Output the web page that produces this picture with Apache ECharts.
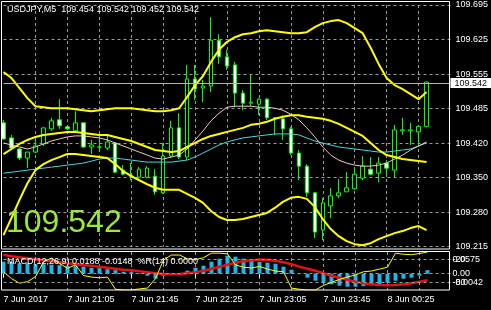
<!DOCTYPE html>
<html><head><meta charset="utf-8">
<script src="https://cdn.jsdelivr.net/npm/echarts@6/dist/echarts.min.js"></script>
<style>html,body{margin:0;padding:0;background:#000;}#c{width:491px;height:310px;}</style>
</head><body><div id="c"></div>
<script>
const times = ['20:25','20:30','20:35','20:40','20:45','20:50','20:55',
 '21:00','21:05','21:10','21:15','21:20','21:25','21:30','21:35','21:40','21:45','21:50','21:55',
 '22:00','22:05','22:10','22:15','22:20','22:25','22:30','22:35','22:40','22:45','22:50','22:55',
 '23:00','23:05','23:10','23:15','23:20','23:25','23:30','23:35','23:40','23:45','23:50','23:55',
 '00:00','00:05','00:10','00:15','00:20','00:25','00:30','00:35','00:40','00:45','00:50',
 '00:55','01:00','01:05'];
const opens = [109.461,109.431,109.409,109.391,109.403,109.419,109.449,109.467,109.453,109.445,
 109.461,109.413,109.413,109.411,109.421,109.367,109.357,109.353,109.353,109.355,
 109.322,109.395,109.451,109.393,109.548,109.530,109.534,109.625,109.592,109.576,
 109.520,109.500,109.498,109.508,109.471,109.469,109.449,109.401,109.375,109.322,
 109.248,109.296,109.316,109.324,109.330,109.351,109.369,109.361,109.381,109.367,
 109.445,109.445,109.443,109.454];
const closes = [109.429,109.411,109.391,109.403,109.415,109.451,109.465,109.455,109.449,109.461,
 109.413,109.417,109.413,109.423,109.363,109.359,109.355,109.369,109.371,109.324,
 109.395,109.451,109.393,109.548,109.528,109.534,109.625,109.592,109.574,109.520,
 109.500,109.502,109.508,109.471,109.469,109.449,109.401,109.375,109.322,109.244,
 109.302,109.316,109.322,109.332,109.359,109.375,109.359,109.381,109.371,109.447,
 109.447,109.447,109.454,109.542];
const lows = [109.427,109.407,109.387,109.371,109.401,109.415,109.445,109.449,109.447,109.443,
 109.411,109.399,109.403,109.407,109.361,109.357,109.347,109.347,109.351,109.318,
 109.320,109.391,109.389,109.387,109.506,109.502,109.522,109.578,109.566,109.492,
 109.486,109.494,109.476,109.467,109.437,109.427,109.397,109.347,109.314,109.232,
 109.228,109.272,109.312,109.324,109.328,109.347,109.357,109.343,109.353,109.353,
 109.437,109.417,109.413,109.452];
const highs = [109.467,109.437,109.411,109.403,109.433,109.451,109.471,109.508,109.453,109.484,
 109.461,109.427,109.435,109.437,109.423,109.377,109.381,109.373,109.375,109.369,
 109.421,109.465,109.480,109.576,109.576,109.546,109.671,109.637,109.606,109.582,
 109.526,109.556,109.510,109.510,109.471,109.476,109.453,109.407,109.379,109.324,
 109.312,109.332,109.349,109.363,109.371,109.395,109.393,109.393,109.387,109.457,
 109.471,109.461,109.457,109.542];
const bbUpper = [109.562,109.550,109.530,109.510,109.494,109.492,109.490,109.490,109.490,109.488,
 109.486,109.484,109.486,109.488,109.490,109.490,109.490,109.488,109.486,109.484,
 109.484,109.486,109.490,109.512,109.536,109.554,109.582,109.606,109.622,109.631,
 109.637,109.639,109.643,109.645,109.643,109.641,109.639,109.639,109.641,109.651,
 109.659,109.663,109.665,109.659,109.649,109.639,109.610,109.578,109.550,109.536,
 109.528,109.518,109.508,109.522];
const bbMiddle = [109.399,109.409,109.419,109.427,109.433,109.437,109.439,109.441,109.443,109.443,
 109.441,109.439,109.437,109.437,109.433,109.429,109.425,109.419,109.413,109.407,
 109.405,109.403,109.405,109.413,109.421,109.429,109.435,109.439,109.443,109.447,
 109.451,109.457,109.459,109.463,109.469,109.473,109.476,109.476,109.473,109.471,
 109.469,109.465,109.459,109.451,109.443,109.435,109.421,109.407,109.397,109.393,
 109.389,109.387,109.385,109.383];
const bbLower = [109.238,109.272,109.308,109.341,109.367,109.379,109.387,109.393,109.399,109.399,
 109.397,109.395,109.393,109.391,109.379,109.365,109.355,109.347,109.339,109.332,
 109.328,109.328,109.328,109.320,109.312,109.302,109.286,109.274,109.268,109.268,
 109.270,109.274,109.278,109.282,109.292,109.304,109.312,109.314,109.310,109.294,
 109.270,109.250,109.236,109.226,109.220,109.218,109.222,109.230,109.236,109.242,
 109.246,109.252,109.256,109.248];
const maPink = [109.421,109.417,109.413,109.409,109.413,109.419,109.425,109.429,109.433,109.435,
 109.435,109.433,109.431,109.427,109.421,109.415,109.409,109.403,109.397,109.391,
 109.389,109.393,109.397,109.409,109.427,109.445,109.465,109.480,109.492,109.494,
 109.494,109.494,109.492,109.492,109.490,109.486,109.478,109.467,109.451,109.433,
 109.413,109.397,109.387,109.381,109.377,109.375,109.375,109.377,109.381,109.389,
 109.397,109.407,109.415,109.423];
const maCyan = [109.361,109.363,109.365,109.367,109.369,109.371,109.373,109.375,109.377,109.379,
 109.381,109.385,109.389,109.391,109.391,109.389,109.387,109.385,109.383,109.383,
 109.383,109.383,109.385,109.387,109.393,109.401,109.409,109.417,109.423,109.427,
 109.431,109.433,109.435,109.437,109.439,109.439,109.439,109.437,109.431,109.425,
 109.421,109.417,109.413,109.411,109.409,109.407,109.405,109.403,109.403,109.405,
 109.407,109.409,109.415,109.421];
const macdMain = [0.0318,0.0318,0.0278,0.0278,0.0252,0.0252,0.0239,0.0225,0.0212,0.0199,
 0.0186,0.0159,0.0146,0.0119,0.0093,0.0053,0.0040,0.0013,-0.0053,-0.0133,
 -0.0053,-0.0013,0.0008,0.0080,0.0159,0.0212,0.0318,0.0398,0.0477,0.0451,
 0.0398,0.0345,0.0318,0.0292,0.0265,0.0186,0.0106,0.0013,-0.0106,-0.0186,
 -0.0252,-0.0278,-0.0318,-0.0345,-0.0345,-0.0331,-0.0305,-0.0278,-0.0239,-0.0186,
 -0.0133,-0.0106,-0.0053,0.0093];
const macdSignal = [0.0504,0.0464,0.0437,0.0411,0.0384,0.0358,0.0331,0.0305,0.0278,0.0252,
 0.0225,0.0212,0.0186,0.0159,0.0133,0.0106,0.0093,0.0066,0.0040,0.0013,
 -0.0008,-0.0013,-0.0008,0.0013,0.0040,0.0080,0.0133,0.0186,0.0239,0.0292,
 0.0331,0.0358,0.0371,0.0371,0.0345,0.0305,0.0252,0.0186,0.0133,0.0080,
 0.0013,-0.0053,-0.0106,-0.0159,-0.0212,-0.0252,-0.0278,-0.0297,-0.0305,-0.0297,
 -0.0278,-0.0252,-0.0212,-0.0172];
const wpr = [-52,-70,-82,-78,-65,-26,-16,-30,-43,-34,
 -62,-66,-68,-66,-98,-100,-100,-97,-95,-70,
 -21,-8,-8,-18,-20,-15,-3,-3,-5,-34,
 -40,-42,-38,-45,-50,-52,-95,-98,-100,-100,
 -88,-80,-72,-66,-60,-52,-50,-45,-40,-3,
 -6,-7,-4,0];
const priceTickLabels = ['109.215','109.280','109.350','109.420','109.485','109.555','109.625','109.695'];
const timeTickLabels = ['7 Jun 2017','7 Jun 21:05','7 Jun 21:45','7 Jun 22:25','7 Jun 23:05','7 Jun 23:45','8 Jun 00:25'];
const macdRange = [-0.0432, 0.0575];
const wprLevels = [-20, -80];
const windowRangeLabels = {'-20':'0.0575','-80':'-0.0042'};
const subHeader = 'MACD(12,26,9) 0.0188 -0.0148  %R(14) 0.0000';

const last = closes.length - 1;
const mainHeader = 'USDJPY,M5  ' + [opens[last], highs[last], lows[last], closes[last]].map(v => v.toFixed(3)).join(' ');
const candles = opens.map((o, i) => [o, closes[i], lows[i], highs[i]]);
const pMin = parseFloat(priceTickLabels[0]), pMax = parseFloat(priceTickLabels[priceTickLabels.length - 1]);

const FONT = 'Liberation Sans, Arial, sans-serif';
const dash = { color: '#9a9a9a', type: [3, 3], width: 1 };
const vSplit = { show: true, interval: (i) => i % 4 === 0 && i > 0 && i < 56, lineStyle: dash };

const chart = echarts.init(document.getElementById('c'), null, { renderer: 'canvas' });
chart.setOption({
  backgroundColor: '#000',
  animation: false,
  title: [
    { text: mainHeader, left: 7, top: 5, padding: 0, textStyle: { color: '#fff', fontSize: 9, fontWeight: 'normal', fontFamily: FONT } },
    { text: subHeader, left: 7, top: 257, padding: 0, textStyle: { color: '#fff', fontSize: 9, fontWeight: 'normal', fontFamily: FONT } }
  ],
  grid: [
    { left: 3.5, top: 5, width: 448, height: 241.7 },
    { left: 3.5, top: 252, width: 448, height: 38 }
  ],
  xAxis: [
    { type: 'category', gridIndex: 0, data: times, boundaryGap: false,
      axisLine: { show: false }, axisTick: { show: false }, axisLabel: { show: false }, splitLine: vSplit },
    { type: 'category', gridIndex: 1, data: times, boundaryGap: false,
      axisLine: { show: false },
      axisTick: { show: true, interval: (i) => i % 8 === 0 && i <= 48, length: 4, lineStyle: { color: '#fff' } },
      axisLabel: { interval: (i) => i % 8 === 0 && i <= 48, formatter: (v, i) => timeTickLabels[i / 8] || '',
        align: 'left', color: '#fff', fontSize: 9, fontFamily: FONT, margin: 5 },
      splitLine: vSplit }
  ],
  yAxis: [
    { type: 'value', gridIndex: 0, min: pMin, max: pMax, show: false, position: 'right' },
    { type: 'value', gridIndex: 0, min: 0, max: priceTickLabels.length - 1, interval: 1, position: 'right',
      axisLine: { show: false }, axisTick: { show: false },
      axisLabel: { formatter: (v) => priceTickLabels[v] || '', color: '#fff', fontSize: 9, fontFamily: FONT, margin: 5 },
      splitLine: { show: true, lineStyle: dash } },
    { type: 'value', gridIndex: 1, min: macdRange[0], max: macdRange[1], interval: -macdRange[0], position: 'right',
      axisLine: { show: false }, axisTick: { show: false }, splitLine: { show: false },
      axisLabel: { formatter: (v) => Math.abs(v) < 1e-9 ? '0.00' : '', color: '#fff', fontSize: 9, fontFamily: FONT, margin: 1 } },
    { type: 'value', gridIndex: 1, min: -100, max: 0, interval: 20, position: 'right',
      axisLine: { show: false }, axisTick: { show: false }, splitLine: { show: false },
      axisLabel: { formatter: (v) => wprLevels.includes(v) ? String(v) : '', color: '#fff', fontSize: 9, fontFamily: FONT, margin: 1 } },
    { type: 'value', gridIndex: 1, min: -100, max: 0, interval: 20, position: 'right',
      axisLine: { show: false }, axisTick: { show: false }, splitLine: { show: false },
      axisLabel: { formatter: (v) => windowRangeLabels[String(v)] || '', color: '#fff', fontSize: 9, fontFamily: FONT, margin: 1 } }
  ],
  graphic: [
    { type: 'rect', shape: { x: 1.5, y: 1.5, width: 448, height: 247.5 }, style: { fill: 'none', stroke: '#fff', lineWidth: 1 }, z: 100, silent: true },
    { type: 'rect', shape: { x: 1.5, y: 251.5, width: 448, height: 38.5 }, style: { fill: 'none', stroke: '#fff', lineWidth: 1 }, z: 100, silent: true },
    { type: 'text', left: 6, top: 207, style: { text: closes[last].toFixed(3), fill: '#9ce83a', fontSize: 32, fontFamily: FONT }, z: 50, silent: true }
  ],
  series: [
    { type: 'candlestick', xAxisIndex: 0, yAxisIndex: 0, data: candles, barWidth: 4, clip: false, z: 2,
      itemStyle: { color: '#000', color0: '#fff', borderColor: '#00ff00', borderColor0: '#00ff00', borderWidth: 1 },
      markLine: { silent: true, symbol: 'none', z: 5,
        lineStyle: { color: '#b4b4b4', type: 'solid', width: 1 },
        label: { show: true, position: 'end', distance: 0, formatter: () => closes[last].toFixed(3),
          color: '#000', backgroundColor: '#fff', fontSize: 9, fontFamily: FONT, lineHeight: 9, padding: [1, 12, 0, 4] },
        data: [{ yAxis: closes[last] }] } },
    { type: 'line', xAxisIndex: 0, yAxisIndex: 0, data: maCyan, showSymbol: false, z: 3, lineStyle: { color: '#4fd3dc', width: 1 } },
    { type: 'line', xAxisIndex: 0, yAxisIndex: 0, data: maPink, showSymbol: false, z: 3, lineStyle: { color: '#f4c4cc', width: 1 } },
    { type: 'line', xAxisIndex: 0, yAxisIndex: 0, data: bbUpper, showSymbol: false, z: 4, lineStyle: { color: '#ffff00', width: 2 } },
    { type: 'line', xAxisIndex: 0, yAxisIndex: 0, data: bbMiddle, showSymbol: false, z: 4, lineStyle: { color: '#ffff00', width: 2 } },
    { type: 'line', xAxisIndex: 0, yAxisIndex: 0, data: bbLower, showSymbol: false, z: 4, lineStyle: { color: '#ffff00', width: 2 } },
    { type: 'bar', xAxisIndex: 1, yAxisIndex: 2, data: macdMain, barWidth: 4, itemStyle: { color: '#1ab8ee' },
      markLine: { silent: true, symbol: 'none', label: { show: false }, lineStyle: dash, data: [{ yAxis: 0 }] } },
    { type: 'line', xAxisIndex: 1, yAxisIndex: 2, data: macdSignal, showSymbol: false, z: 3, lineStyle: { color: '#e01414', width: 2.5 } },
    { type: 'line', xAxisIndex: 1, yAxisIndex: 3, data: wpr, showSymbol: false, z: 4, lineStyle: { color: '#ffff00', width: 1 },
      markLine: { silent: true, symbol: 'none', label: { show: false }, lineStyle: dash, data: wprLevels.map(v => ({ yAxis: v })) } }
  ]
});
</script>
</body></html>
